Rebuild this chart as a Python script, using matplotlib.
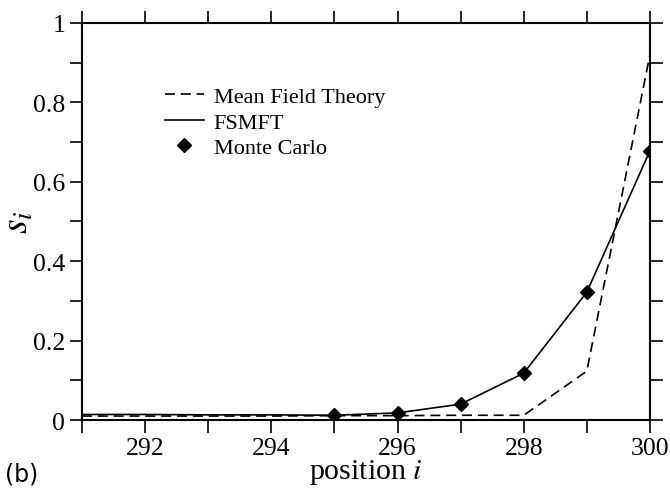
import numpy as np
import matplotlib.pyplot as plt
from matplotlib.ticker import MultipleLocator

# data
positions = [291, 292, 293, 294, 295, 296, 297, 298, 299, 300]
mean_field = [0.010, 0.010, 0.010, 0.010, 0.011, 0.011, 0.012, 0.012, 0.123, 0.92]
fsmft = [0.014, 0.014, 0.013, 0.013, 0.012, 0.018, 0.040, 0.118, 0.322, 0.678]
mc_positions = [295, 296, 297, 298, 299, 300]
monte_carlo = [0.012, 0.018, 0.040, 0.118, 0.322, 0.678]

plt.rcParams['font.family'] = ['Liberation Serif', 'DejaVu Serif']
plt.rcParams['mathtext.fontset'] = 'stix'

fig = plt.figure(figsize=(6.7, 4.89), dpi=100)
ax = fig.add_axes([0.1224, 0.139, 0.8476, 0.812])

ax.plot(positions, mean_field, color='black', linestyle=(0, (6, 3.5)), linewidth=1.2,
        label='Mean Field Theory')
ax.plot(positions, fsmft, color='black', linewidth=1.2, label='FSMFT')
ax.plot(mc_positions, monte_carlo, linestyle='none', marker='D', markersize=7,
        color='black', label='Monte Carlo')

ax.set_xlim(291, 300)
ax.set_ylim(0, 1)
ax.xaxis.set_major_locator(MultipleLocator(2))
ax.xaxis.set_minor_locator(MultipleLocator(1))
ax.yaxis.set_minor_locator(MultipleLocator(0.1))
ax.set_yticks([0, 0.2, 0.4, 0.6, 0.8, 1.0], ['0', '0.2', '0.4', '0.6', '0.8', '1'])

ax.tick_params(which='both', direction='out', length=9, width=1.2,
               top=True, right=True, labelsize=18.5, pad=3)
for side in ax.spines.values():
    side.set_linewidth(1.5)

ax.set_xlabel(r'position $\mathit{i}$', fontsize=21.5, labelpad=-1.5)
ax.set_ylabel(r'$s_i$', fontsize=27, labelpad=-2)

leg = ax.legend(loc='upper left', bbox_to_anchor=(0.13, 0.862), frameon=False,
                fontsize=16, handlelength=1.75, labelspacing=0.22, handletextpad=0.45,
                borderaxespad=0)

fig.text(0.008, 0.005, '(b)', fontsize=17, family='DejaVu Sans', va='bottom')

fig.savefig('out.png', dpi=100)
